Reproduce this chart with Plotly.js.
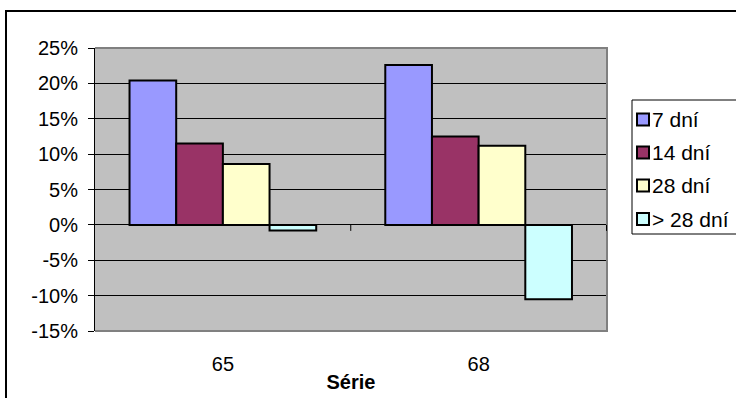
<!DOCTYPE html>
<html>
<head>
<meta charset="utf-8">
<script src="https://cdn.plot.ly/plotly-3.0.1.min.js"></script>
<style>
html,body{margin:0;padding:0;background:#fff;}
#chart{width:736px;height:398px;}
</style>
</head>
<body>
<div id="chart"></div>
<script>
var categories = ["65", "68"];
var seriesNames = ["7 dní", "14 dní", "28 dní", "> 28 dní"];
var seriesColors = ["#9999FF", "#993366", "#FFFFCC", "#CCFFFF"];
var v7 = [20.4, 22.6];
var v14 = [11.5, 12.5];
var v28 = [8.6, 11.2];
var vOver28 = [-0.8, -10.5];
var yTicks = [-15, -10, -5, 0, 5, 10, 15, 20, 25];
var xAxisTitle = "Série";

var seriesValues = [v7, v14, v28, vOver28];
var font = "Arial, 'Liberation Sans', sans-serif";

// plot-area geometry (pixels)
var W = 736, H = 398;
var L = 95, R = 607, T = 48, B = 331;
function px(xp) { return (xp - L) / (R - L); }
function py(yp) { return (B - yp) / (B - T); }

var traces = seriesValues.map(function (vals, i) {
  return {
    type: "bar",
    x: categories,
    y: vals,
    name: seriesNames[i],
    showlegend: false,
    marker: { color: seriesColors[i], line: { color: "#000000", width: 2 } },
    hoverinfo: "x+y+name"
  };
});

var shapes = [
  { type: "path", xref: "paper", yref: "paper", path: "M0,1 L1,1 L1,0 L0,0", line: { color: "#808080", width: 2 }, layer: "above" },
  { type: "line", xref: "x", yref: "y", x0: 0.5, x1: 0.5, ysizemode: "pixel", yanchor: 0, y0: 0, y1: -6, line: { color: "#000", width: 1 } },
  { type: "line", xref: "x", yref: "y", x0: 1.5, x1: 1.5, ysizemode: "pixel", yanchor: 0, y0: 0, y1: -6, line: { color: "#000", width: 1 } },
  { type: "rect", xref: "paper", yref: "paper", x0: px(6), x1: px(760), y0: py(420), y1: py(11), line: { color: "#000", width: 2 }, layer: "above" },
  { type: "rect", xref: "paper", yref: "paper", x0: px(632), x1: px(760), y0: py(234), y1: py(100), fillcolor: "#ffffff", line: { color: "#000", width: 1 }, layer: "above" }
];
var annotations = [];
var itemY = [119.5, 152.5, 185.5, 219];
seriesNames.forEach(function (n, i) {
  shapes.push({ type: "rect", xref: "paper", yref: "paper", x0: px(637), x1: px(649), y0: py(itemY[i] + 6), y1: py(itemY[i] - 6), fillcolor: seriesColors[i], line: { color: "#000", width: 2 }, layer: "above" });
  annotations.push({ xref: "paper", yref: "paper", x: px(650), y: py(itemY[i]), xanchor: "left", yanchor: "middle", text: n, showarrow: false, font: { family: font, size: 21, color: "#000" } });
});

var layout = {
  width: W,
  height: H,
  margin: { l: L, r: W - R, t: T, b: H - B, autoexpand: false },
  paper_bgcolor: "#ffffff",
  plot_bgcolor: "#C0C0C0",
  barmode: "group",
  bargap: 0.27,
  bargroupgap: 0,
  showlegend: false,
  font: { family: font, size: 20, color: "#000000" },
  xaxis: {
    type: "category",
    showgrid: false,
    zeroline: false,
    showline: false,
    ticks: "outside",
    ticklen: 15,
    tickcolor: "rgba(0,0,0,0)",
    tickfont: { family: font, size: 20, color: "#000" },
    title: { text: "<b>" + xAxisTitle + "</b>", font: { family: font, size: 20, color: "#000" }, standoff: 0 }
  },
  yaxis: {
    range: [-15, 25],
    tickvals: yTicks,
    ticktext: yTicks.map(function (t) { return t + "%"; }),
    showgrid: true,
    gridcolor: "#000000",
    gridwidth: 1,
    zeroline: true,
    zerolinecolor: "#000000",
    zerolinewidth: 1,
    showline: true,
    linecolor: "#000000",
    linewidth: 1,
    ticks: "outside",
    ticklen: 6,
    tickcolor: "#000000",
    ticklabelstandoff: 6,
    tickfont: { family: font, size: 20, color: "#000" }
  },
  shapes: shapes,
  annotations: annotations
};

Plotly.newPlot("chart", traces, layout, { displayModeBar: false, staticPlot: true });
</script>
</body>
</html>
